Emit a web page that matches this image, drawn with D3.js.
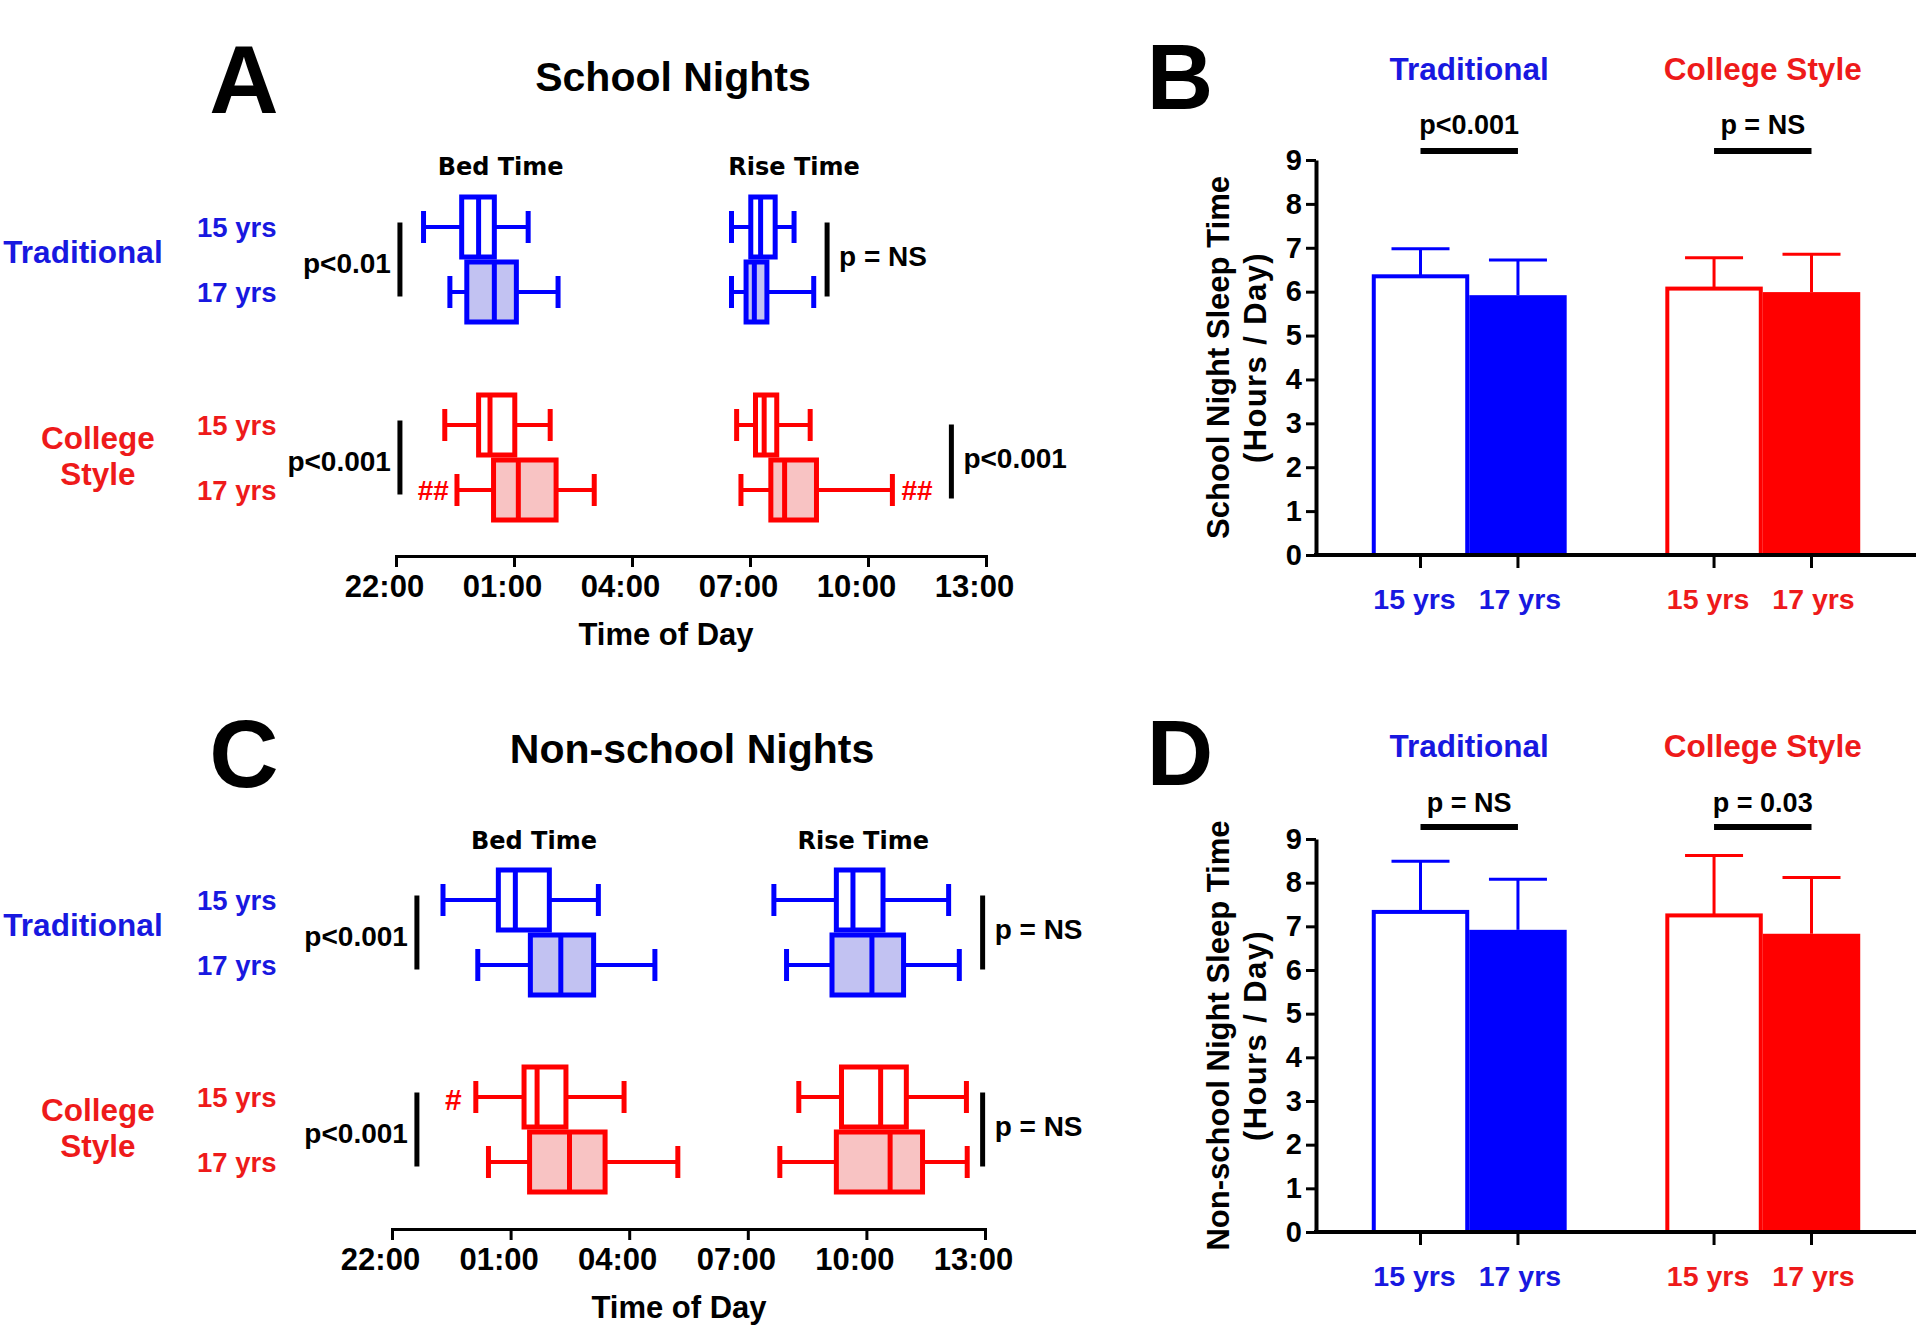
<!DOCTYPE html>
<html><head><meta charset="utf-8">
<script src="https://cdn.jsdelivr.net/npm/d3@7"></script>
<style>
body{margin:0;background:#fff}
svg{display:block}
text{font-family:"Liberation Sans",Arial,Helvetica,sans-serif;font-weight:bold}
</style>
</head><body>
<svg id="chart" width="1920" height="1342"></svg>
<script>
// ---------------- data ----------------
const schoolTypes = ["Traditional", "College Style"];
const ageGroups = ["15 yrs", "17 yrs"];
// time axis: clock hours, times after midnight written as 24 + h
const timeTickValues = [22, 25, 28, 31, 34, 37];
const timeTickLabels = ["22:00", "01:00", "04:00", "07:00", "10:00", "13:00"];
// box plots: [min, Q1, median, Q3, max]; rows: Trad 15, Trad 17, College 15, College 17
const schoolBedTime = [
  [22.70, 23.67, 24.10, 24.50, 25.36],
  [23.37, 23.80, 24.50, 25.06, 26.12],
  [23.24, 24.10, 24.39, 25.02, 25.92],
  [23.55, 24.48, 25.11, 26.07, 27.04]
];
const schoolRiseTime = [
  [30.53, 31.02, 31.27, 31.64, 32.12],
  [30.53, 30.90, 31.11, 31.43, 32.62],
  [30.66, 31.14, 31.36, 31.68, 32.53],
  [30.77, 31.53, 31.88, 32.69, 34.62]
];
const nonSchoolBedTime = [
  [23.29, 24.69, 25.12, 25.98, 27.22],
  [24.17, 25.50, 26.27, 27.10, 28.65],
  [24.12, 25.34, 25.67, 26.40, 27.87],
  [24.44, 25.48, 26.49, 27.39, 29.23]
];
const nonSchoolRiseTime = [
  [31.66, 33.24, 33.66, 34.42, 36.08],
  [31.98, 33.13, 34.14, 34.94, 36.35],
  [32.29, 33.37, 34.36, 35.01, 36.53],
  [31.81, 33.24, 34.60, 35.42, 36.55]
];
// sleep duration (hours/day): mean and SD (upper error bar)
const sleepTicks = [0, 1, 2, 3, 4, 5, 6, 7, 8, 9];
const schoolSleepMean = [6.35, 5.92, 6.07, 5.99];
const schoolSleepSD = [0.63, 0.80, 0.70, 0.86];
const nonSchoolSleepMean = [7.33, 6.92, 7.25, 6.83];
const nonSchoolSleepSD = [1.16, 1.16, 1.37, 1.29];
// significance labels
const schoolBoxP = ["p<0.01", "p<0.001", "p = NS", "p<0.001"];      // bed trad, bed college, rise trad, rise college
const nonSchoolBoxP = ["p<0.001", "p<0.001", "p = NS", "p = NS"];
const schoolBarP = ["p<0.001", "p = NS"];
const nonSchoolBarP = ["p = NS", "p = 0.03"];

// ---------------- style ----------------
const BLUE = "#0000ff", RED = "#ff0000";
const BLUE_T = "#1818e0", RED_T = "#ee1a1a";
const BLUE_F = "#c2c2f2", RED_F = "#f8c3c3";
const markColor = i => (i < 2 ? BLUE : RED);
const textColor = i => (i < 2 ? BLUE_T : RED_T);
const fillColor = i => (i % 2 === 0 ? "#ffffff" : (i < 2 ? BLUE_F : RED_F));

const svg = d3.select("#chart");

function txt(g, x, y, s, o = {}) {
  const t = g.append("text")
    .attr("x", x).attr("y", y)
    .attr("dy", o.dy || "0.36em")
    .attr("font-size", o.size || 28)
    .attr("text-anchor", o.anchor || "middle")
    .attr("fill", o.fill || "#000")
    .text(s);
  if (o.family) t.style("font-family", o.family);
  if (o.spacing) t.attr("letter-spacing", o.spacing);
  if (o.transform) t.attr("transform", o.transform);
  return t;
}

// ---------------- box-plot panels (A, C) ----------------
function boxPanel(cfg) {
  const g = svg.append("g");
  const x = d3.scaleLinear().domain([22, 37]).range(cfg.xRange);
  const rowY = i => cfg.top + (i % 2) * 65 + Math.floor(i / 2) * cfg.groupGap;
  const groupMid = k => (rowY(2 * k) + rowY(2 * k + 1)) / 2;

  // panel letter & title
  txt(g, cfg.letterX, cfg.letterY, cfg.letter, {size: 96, dy: 0});
  txt(g, cfg.titleX, cfg.titleY, cfg.title, {size: 41});
  txt(g, x(cfg.bedLabelT), cfg.subY, "Bed Time", {size: 24, family: "'DejaVu Sans',Verdana,sans-serif"});
  txt(g, x(cfg.riseLabelT), cfg.subY, "Rise Time", {size: 24, family: "'DejaVu Sans',Verdana,sans-serif"});

  // left labels
  txt(g, 83, groupMid(0) - 8, "Traditional", {size: 31.5, fill: BLUE_T});
  txt(g, 98, groupMid(1) - 20, "College", {size: 31.5, fill: RED_T});
  txt(g, 98, groupMid(1) + 16, "Style", {size: 31.5, fill: RED_T});
  for (let i = 0; i < 4; i++) {
    txt(g, 197, rowY(i), ageGroups[i % 2], {size: 27.5, anchor: "start", fill: textColor(i)});
  }

  // boxes
  const drawBoxes = (data) => {
    data.forEach((d, i) => {
      const y = rowY(i), c = markColor(i);
      const [lo, q1, md, q3, hi] = d.map(x);
      g.append("line").attr("x1", lo).attr("x2", q1).attr("y1", y).attr("y2", y).attr("stroke", c).attr("stroke-width", 4);
      g.append("line").attr("x1", q3).attr("x2", hi).attr("y1", y).attr("y2", y).attr("stroke", c).attr("stroke-width", 4);
      g.append("line").attr("x1", lo).attr("x2", lo).attr("y1", y - 16).attr("y2", y + 16).attr("stroke", c).attr("stroke-width", 5);
      g.append("line").attr("x1", hi).attr("x2", hi).attr("y1", y - 16).attr("y2", y + 16).attr("stroke", c).attr("stroke-width", 5);
    });
    data.forEach((d, i) => {
      const y = rowY(i), c = markColor(i);
      const [lo, q1, md, q3, hi] = d.map(x);
      g.append("rect").attr("x", q1).attr("y", y - 30).attr("width", q3 - q1).attr("height", 60)
        .attr("fill", fillColor(i)).attr("stroke", c).attr("stroke-width", 5);
      g.append("line").attr("x1", md).attr("x2", md).attr("y1", y - 30).attr("y2", y + 30).attr("stroke", c).attr("stroke-width", 5);
    });
  };
  drawBoxes(cfg.bed);
  drawBoxes(cfg.rise);

  // brackets with p values
  cfg.brackets.forEach((b, j) => {
    const k = j % 2;                        // group 0 trad, 1 college
    const mid = groupMid(k) + (b.dy || 0);
    const bx = x(b.t);
    g.append("line").attr("x1", bx).attr("x2", bx).attr("y1", mid - 37).attr("y2", mid + 37)
      .attr("stroke", "#000").attr("stroke-width", 5);
    if (b.side === "left") txt(g, bx - 9, mid + 3, cfg.p[j], {size: 28, anchor: "end"});
    else txt(g, bx + 12, mid - 4, cfg.p[j], {size: 28, anchor: "start"});
  });

  // hash marks
  cfg.hashes.forEach(h => {
    const d = (h.which === "bed" ? cfg.bed : cfg.rise)[h.row];
    if (h.side === "left") txt(g, x(d[0]) - h.gap, rowY(h.row) + (h.dy || 0), h.text, {size: h.size || 28, anchor: "end", fill: RED});
    else txt(g, x(d[4]) + h.gap, rowY(h.row) + (h.dy || 0), h.text, {size: h.size || 28, anchor: "start", fill: RED});
  });

  // time axis
  const ax = g.append("g").attr("transform", `translate(0,${cfg.axisY})`)
    .call(d3.axisBottom(x).tickValues(timeTickValues).tickFormat((d, i) => timeTickLabels[i])
      .tickSize(11).tickSizeOuter(11).tickPadding(8));
  ax.select(".domain").attr("stroke", "#000").attr("stroke-width", 3).attr("fill", "none");
  ax.selectAll(".tick line").attr("stroke", "#000").attr("stroke-width", 3);
  ax.selectAll(".tick text").attr("font-size", 31).attr("font-family", null).attr("fill", "#000")
    .attr("dx", -12).attr("font-weight", "bold");
  txt(g, cfg.axisTitleX, cfg.axisY + 78, "Time of Day", {size: 31});
}

boxPanel({
  letter: "A", letterX: 244, letterY: 78,
  title: "School Nights", titleX: 673, titleY: 76,
  subY: 166, bedLabelT: 24.66, riseLabelT: 32.12,
  xRange: [396, 986], top: 227, groupGap: 198, axisY: 556, axisTitleX: 666,
  bed: schoolBedTime, rise: schoolRiseTime, p: schoolBoxP,
  brackets: [
    {t: 22.10, side: "left"}, {t: 22.10, side: "left"},
    {t: 32.96, side: "right"}, {t: 36.12, side: "right", dy: 4}
  ],
  hashes: [
    {which: "bed", row: 3, side: "left", text: "##", gap: 8},
    {which: "rise", row: 3, side: "right", text: "##", gap: 9}
  ]
});

boxPanel({
  letter: "C", letterX: 244, letterY: 752,
  title: "Non-school Nights", titleX: 692, titleY: 748,
  subY: 840, bedLabelT: 25.59, riseLabelT: 33.92,
  xRange: [392, 985], top: 900, groupGap: 197, axisY: 1229, axisTitleX: 679,
  bed: nonSchoolBedTime, rise: nonSchoolRiseTime, p: nonSchoolBoxP,
  brackets: [
    {t: 22.63, side: "left"}, {t: 22.63, side: "left"},
    {t: 36.94, side: "right"}, {t: 36.94, side: "right"}
  ],
  hashes: [
    {which: "bed", row: 2, side: "left", text: "#", gap: 14, size: 30, dy: 2}
  ]
});

// ---------------- bar panels (B, D) ----------------
function barPanel(cfg) {
  const g = svg.append("g");
  const y = d3.scaleLinear().domain([0, 9]).range([cfg.y0, cfg.y9]);
  const gx = d3.scaleBand().domain(schoolTypes).range([1316, 1916]).paddingInner(0.336).paddingOuter(0.19);
  const ax = d3.scaleBand().domain(ageGroups).range([0, gx.bandwidth()]);
  const barX = i => gx(schoolTypes[Math.floor(i / 2)]) + ax(ageGroups[i % 2]);
  const bw = ax.bandwidth();

  txt(g, 1180, cfg.letterY, cfg.letter, {size: 92, dy: 0});

  // group headers + significance bars
  schoolTypes.forEach((s, k) => {
    const cx = gx(s) + gx.bandwidth() / 2;
    txt(g, cx, cfg.headerY, s, {size: 31.5, fill: k === 0 ? BLUE_T : RED_T});
    txt(g, cx, cfg.pY, cfg.p[k], {size: 27});
    const x1 = barX(2 * k) + bw / 2, x2 = barX(2 * k + 1) + bw / 2;
    g.append("line").attr("x1", x1).attr("x2", x2).attr("y1", cfg.sigY).attr("y2", cfg.sigY)
      .attr("stroke", "#000").attr("stroke-width", 6);
  });

  // bars
  cfg.mean.forEach((m, i) => {
    const c = markColor(i), x0 = barX(i);
    const cx = x0 + bw / 2;
    const top = y(m), errTop = y(m + cfg.sd[i]);
    g.append("line").attr("x1", cx).attr("x2", cx).attr("y1", top).attr("y2", errTop).attr("stroke", c).attr("stroke-width", 3);
    g.append("line").attr("x1", cx - 29).attr("x2", cx + 29).attr("y1", errTop).attr("y2", errTop).attr("stroke", c).attr("stroke-width", 3);
    if (i % 2 === 0) {
      g.append("rect").attr("x", x0 + 2).attr("y", top).attr("width", bw - 4).attr("height", y(0) - top)
        .attr("fill", "#fff").attr("stroke", c).attr("stroke-width", 4);
    } else {
      g.append("rect").attr("x", x0).attr("y", top).attr("width", bw).attr("height", y(0) - top).attr("fill", c);
    }
  });

  // y axis
  const ya = g.append("g").attr("transform", "translate(1316,0)")
    .call(d3.axisLeft(y).tickValues(sleepTicks).tickFormat(d3.format("d")).tickSize(10).tickSizeOuter(0).tickPadding(4));
  ya.select(".domain").attr("stroke", "#000").attr("stroke-width", 4);
  ya.selectAll(".tick line").attr("stroke", "#000").attr("stroke-width", 3);
  ya.selectAll(".tick text").attr("font-size", 29).attr("font-family", null).attr("font-weight", "bold").attr("fill", "#000");

  // x axis
  g.append("line").attr("x1", 1314).attr("x2", 1916).attr("y1", y(0)).attr("y2", y(0)).attr("stroke", "#000").attr("stroke-width", 4);
  for (let i = 0; i < 4; i++) {
    const cx = barX(i) + bw / 2;
    g.append("line").attr("x1", cx).attr("x2", cx).attr("y1", y(0)).attr("y2", y(0) + 13).attr("stroke", "#000").attr("stroke-width", 3);
    txt(g, cx - (i % 2 === 0 ? 6 : -2), y(0) + 44, ageGroups[i % 2], {size: 28.5, fill: textColor(i)});
  }

  // y title
  const cy = (cfg.y0 + cfg.y9) / 2;
  txt(g, 0, 0, cfg.yTitle, {size: 31, dy: 0, transform: `translate(1218,${cy}) rotate(-90)`});
  txt(g, 0, 0, "(Hours / Day)", {size: 31, dy: 0, spacing: 1.4, transform: `translate(1255,${cy}) rotate(-90)`});
}

barPanel({
  letter: "B", letterY: 76, y0: 555, y9: 160,
  headerY: 69, pY: 124, sigY: 151,
  mean: schoolSleepMean, sd: schoolSleepSD, p: schoolBarP,
  yTitle: "School Night Sleep Time"
});
barPanel({
  letter: "D", letterY: 752, y0: 1232, y9: 839,
  headerY: 746, pY: 802, sigY: 827,
  mean: nonSchoolSleepMean, sd: nonSchoolSleepSD, p: nonSchoolBarP,
  yTitle: "Non-school Night Sleep Time"
});
</script>
</body></html>
